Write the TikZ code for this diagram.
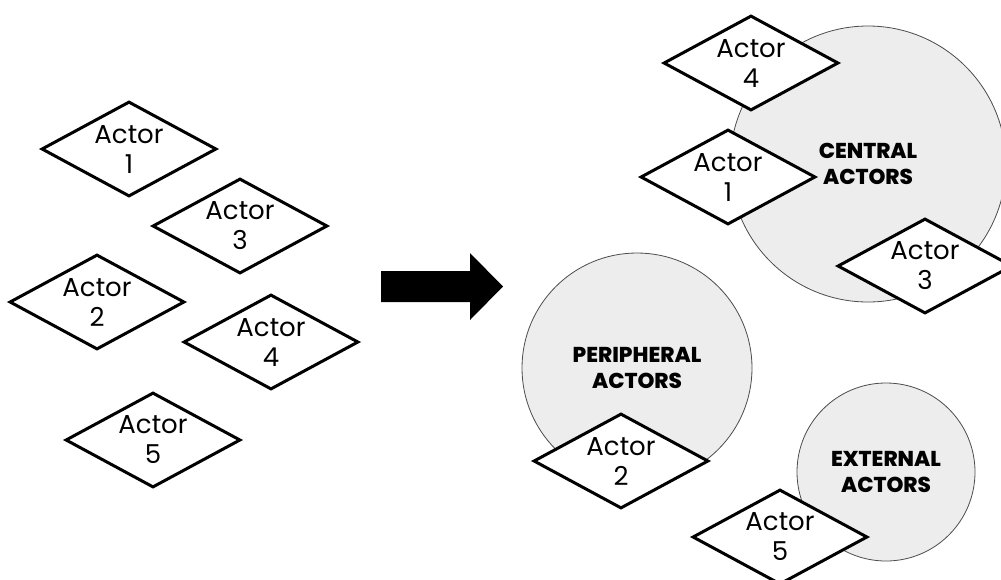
\documentclass[tikz,border=0pt]{standalone}
\usepackage{fontspec}
\setmainfont{Poppins}[BoldFont={Poppins ExtraBold}]
\usetikzlibrary{shapes.geometric}
\tikzset{
  actor/.style={diamond, draw, line width=3pt, fill=white,
    minimum width=175pt, minimum height=95pt, inner sep=0pt},
  actortext/.style={align=center, inner sep=0pt,
    font=\fontsize{26}{30}\selectfont},
  group/.style={circle, draw=black!70, line width=0.8pt, fill=black!7,
    inner sep=0pt, align=center, font=\bfseries\fontsize{21.5}{26}\selectfont},
}
\begin{document}
\begin{tikzpicture}[x=1pt, y=-1pt]
          \useasboundingbox (0,0) rectangle (1001,579);

          % actors before grouping
          \node[actor, label={[actortext]center:{Actor\\1}}] (l1) at (129,149) {};
          \node[actor, label={[actortext]center:{Actor\\3}}] (l3) at (240,226) {};
          \node[actor, label={[actortext]center:{Actor\\2}}] (l2) at (97,302) {};
          \node[actor, label={[actortext]center:{Actor\\4}}] (l4) at (271,342) {};
          \node[actor, label={[actortext]center:{Actor\\5}}] (l5) at (153,440) {};

          % big arrow
          \fill (381,271) -- (470,271) -- (470,253) -- (503,286.5)
            -- (470,320) -- (470,302) -- (381,302) -- cycle;

          % groups
          \node[group, minimum size=276pt] (central) at (868,164) {CENTRAL\\ACTORS};
          \node[group, minimum size=230pt] (peripheral) at (637,368) {PERIPHERAL\\ACTORS};
          \node[group, minimum size=178pt] (external) at (886,472) {EXTERNAL\\ACTORS};

          % actors after grouping
          \node[actor, label={[actortext]center:{Actor\\4}}] (r4) at (751,63) {};
          \node[actor, label={[actortext]center:{Actor\\1}}] (r1) at (728,177) {};
          \node[actor, label={[actortext]center:{Actor\\3}}] (r3) at (925,266) {};
          \node[actor, label={[actortext]center:{Actor\\2}}] (r2) at (621,461) {};
          \node[actor, label={[actortext]center:{Actor\\5}}] (r5) at (780,537) {};
        \end{tikzpicture}
\end{document}
